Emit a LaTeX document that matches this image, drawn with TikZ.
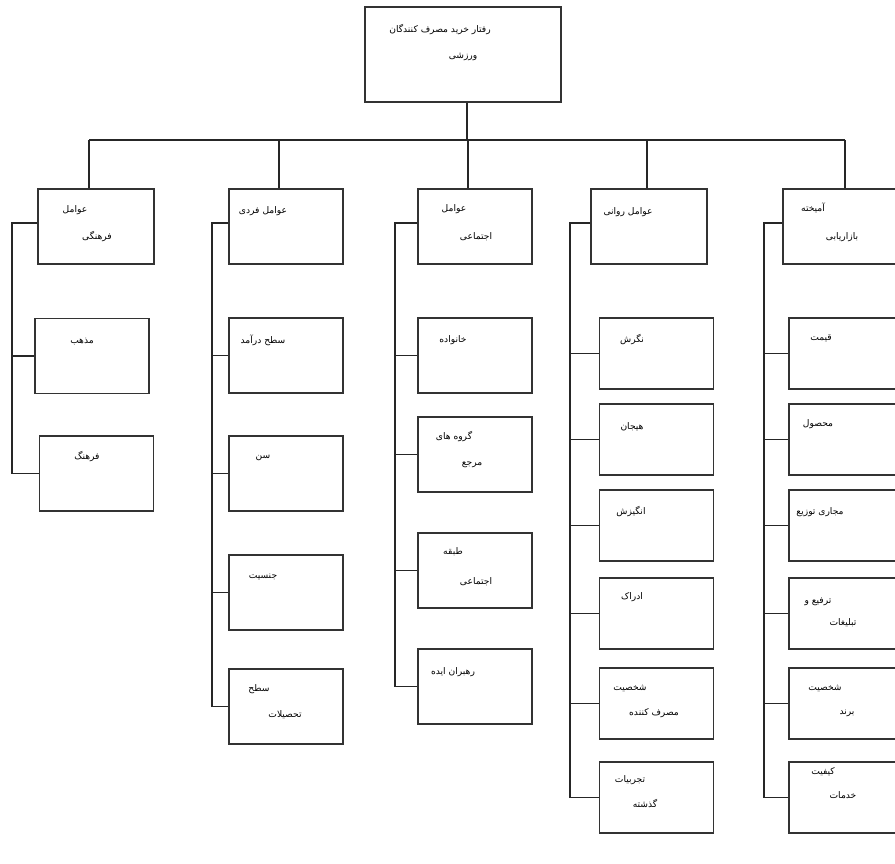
\documentclass[tikz,border=0pt]{standalone}
\usepackage{fontspec}
\newfontfamily\fafont[Script=Arabic]{DejaVu Sans}
\TeXXeTstate=1
\usetikzlibrary{positioning}
\tikzset{
  box/.style={shape=rectangle,draw=black!80,line width=2pt,minimum width=5.7cm,minimum height=3.75cm,inner sep=0pt},
  lowbox/.style={box,minimum height=3.55cm},
  lbl/.style={inner sep=0pt,font=\fafont\fontsize{13}{15}\selectfont},
  link/.style={draw=black!85,line width=2pt},
}
\begin{document}
\begin{tikzpicture}[x=0.05cm,y=-0.05cm]
    \useasboundingbox (0,0) rectangle (895,864);
    \clip (0,0) rectangle (895,864);

    \node[box,minimum width=9.8cm,minimum height=4.75cm] (root) at (463,54.5) {};
    \node[lbl] (rootA) at (440,30) {\beginR رفتار خرید مصرف کنندگان\endR};
    \node[lbl] (rootB) at (463,57) {\beginR ورزشی\endR};

    \node[box,minimum width=5.8cm] (farhangi) at (96,226.5) {};
    \node[box] (mazhab) at (92,356) {};
    \node[box] (farhang) at (96.5,473.5) {};
    \node[lbl] (farhangiA) at (75,210) {\beginR عوامل\endR};
    \node[lbl] (farhangiB) at (97,237) {\beginR فرهنگی\endR};
    \node[lbl] (mazhabT) at (82,342) {\beginR مذهب\endR};
    \node[lbl] (farhangT) at (87,457) {\beginR فرهنگ\endR};

    \node[box] (fardi) at (286,226.5) {};
    \node[box] (daramad) at (286,355.5) {};
    \node[box] (sen) at (286,473.5) {};
    \node[box] (jensiat) at (286,592.5) {};
    \node[box] (tahsilat) at (286,706.5) {};
    \node[lbl] (fardiT) at (263,211) {\beginR عوامل فردی\endR};
    \node[lbl] (daramadT) at (263,340) {\beginR سطح درآمد\endR};
    \node[lbl] (senT) at (263,458) {\beginR سن\endR};
    \node[lbl] (jensiatT) at (263,577) {\beginR جنسیت\endR};
    \node[lbl] (tahsilatA) at (259,689) {\beginR سطح\endR};
    \node[lbl] (tahsilatB) at (285,715) {\beginR تحصیلات\endR};

    \node[box] (ejtemai) at (475,226.5) {};
    \node[box] (khanevade) at (475,355.5) {};
    \node[box] (gorooh) at (475,454.5) {};
    \node[box] (tabaghe) at (475,570.5) {};
    \node[box] (rahbaran) at (475,686.5) {};
    \node[lbl] (ejtemaiA) at (454,209) {\beginR عوامل\endR};
    \node[lbl] (ejtemaiB) at (476,237) {\beginR اجتماعی\endR};
    \node[lbl] (khanevadeT) at (453,340) {\beginR خانواده\endR};
    \node[lbl] (goroohA) at (454,437) {\beginR گروه های\endR};
    \node[lbl] (goroohB) at (472,465) {\beginR مرجع\endR};
    \node[lbl] (tabagheA) at (453,552) {\beginR طبقه\endR};
    \node[lbl] (tabagheB) at (476,582) {\beginR اجتماعی\endR};
    \node[lbl] (rahbaranT) at (453,672) {\beginR رهبران ایده\endR};

    \node[box,minimum width=5.8cm] (ravani) at (649,226.5) {};
    \node[lowbox] (negaresh) at (656.5,353.5) {};
    \node[lowbox] (hayajan) at (656.5,439.5) {};
    \node[lowbox] (angizesh) at (656.5,525.5) {};
    \node[lowbox] (edrak) at (656.5,613.5) {};
    \node[lowbox] (shakhsiat) at (656.5,703.5) {};
    \node[lowbox] (tajrobe) at (656.5,797.5) {};
    \node[lbl] (ravaniT) at (628,212) {\beginR عوامل روانی\endR};
    \node[lbl] (negareshT) at (632,340) {\beginR نگرش\endR};
    \node[lbl] (hayajanT) at (632,427) {\beginR هیجان\endR};
    \node[lbl] (angizeshT) at (631,512) {\beginR انگیزش\endR};
    \node[lbl] (edrakT) at (632,597) {\beginR ادراک\endR};
    \node[lbl] (shakhsiatA) at (630,688) {\beginR شخصیت\endR};
    \node[lbl] (shakhsiatB) at (654,713) {\beginR مصرف کننده\endR};
    \node[lbl] (tajrobeA) at (630,780) {\beginR تجربیات\endR};
    \node[lbl] (tajrobeB) at (645,803) {\beginR گذشته\endR};

    \node[box] (amikhte) at (840,226.5) {};
    \node[lowbox] (gheimat) at (846,353.5) {};
    \node[lowbox] (mahsool) at (846,439.5) {};
    \node[lowbox] (tozi) at (846,525.5) {};
    \node[lowbox] (tarfi) at (846,613.5) {};
    \node[lowbox] (brand) at (846,703.5) {};
    \node[lowbox] (keyfiat) at (846,797.5) {};
    \node[lbl] (amikhteA) at (813,208) {\beginR آمیخته\endR};
    \node[lbl] (amikhteB) at (842,237) {\beginR بازاریابی\endR};
    \node[lbl] (gheimatT) at (821,338) {\beginR قیمت\endR};
    \node[lbl] (mahsoolT) at (818,424) {\beginR محصول\endR};
    \node[lbl] (toziT) at (820,512) {\beginR مجاری توزیع\endR};
    \node[lbl] (tarfiA) at (818,602) {\beginR ترفیع و\endR};
    \node[lbl] (tarfiB) at (843,623) {\beginR تبلیغات\endR};
    \node[lbl] (brandA) at (825,688) {\beginR شخصیت\endR};
    \node[lbl] (brandB) at (847,713) {\beginR برند\endR};
    \node[lbl] (keyfiatA) at (823,772) {\beginR کیفیت\endR};
    \node[lbl] (keyfiatB) at (843,795) {\beginR خدمات\endR};

    \coordinate (hub) at (467,140);
    \coordinate (joinA) at (89,140);
    \coordinate (joinB) at (279,140);
    \coordinate (joinC) at (468,140);
    \coordinate (joinD) at (647,140);
    \coordinate (joinE) at (845,140);
    \draw[link] (root.south -| hub) -- (hub);
    \draw[link] (joinA) -- (joinE);
    \draw[link] (joinA) -- (joinA |- farhangi.north);
    \draw[link] (joinB) -- (joinB |- fardi.north);
    \draw[link] (joinC) -- (joinC |- ejtemai.north);
    \draw[link] (joinD) -- (joinD |- ravani.north);
    \draw[link] (joinE) -- (joinE |- amikhte.north);

    \coordinate (busA) at (12,223);
    \coordinate (busB) at (212,223);
    \coordinate (busC) at (395,223);
    \coordinate (busD) at (570,223);
    \coordinate (busE) at (764,223);
    \draw[link] (busA -| farhangi.west) -- (busA) |- (farhang.west);
    \draw[link] (busA) |- (mazhab.west);
    \draw[link] (busB -| fardi.west) -- (busB) |- (tahsilat.west);
    \foreach \k in {daramad,sen,jensiat} \draw[link] (busB) |- (\k.west);
    \draw[link] (busC -| ejtemai.west) -- (busC) |- (rahbaran.west);
    \foreach \k in {khanevade,gorooh,tabaghe} \draw[link] (busC) |- (\k.west);
    \draw[link] (busD -| ravani.west) -- (busD) |- (tajrobe.west);
    \foreach \k in {negaresh,hayajan,angizesh,edrak,shakhsiat} \draw[link] (busD) |- (\k.west);
    \draw[link] (busE -| amikhte.west) -- (busE) |- (keyfiat.west);
    \foreach \k in {gheimat,mahsool,tozi,tarfi,brand} \draw[link] (busE) |- (\k.west);
\end{tikzpicture}
\end{document}
